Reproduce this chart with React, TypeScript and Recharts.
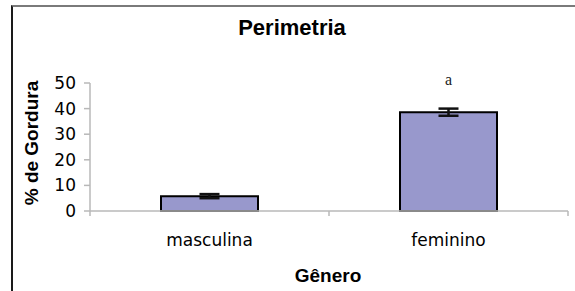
import { Bar, BarChart, ErrorBar, LabelList, XAxis, YAxis } from "recharts";

const generos = ["masculina", "feminino"];
const gordura = [5.8, 38.6];
const erros = [0.8, 1.4];
const letras = ["", "a"];
const yTicks = [0, 10, 20, 30, 40, 50];

const data = generos.map((g, i) => ({
  genero: g,
  valor: gordura[i],
  erro: erros[i],
  letra: letras[i],
}));

const AXIS_GRAY = "#b8b8b8";
const tickFont = { fontFamily: "DejaVu Sans, sans-serif", fontSize: 17, fill: "#000" };
const boldFont = "Liberation Sans, Arial, sans-serif";

// rótulo da categoria + marcas nos limites da faixa (como no Excel)
const CategoriaTick = (props: any) => {
  const { x, y, payload, index } = props;
  const half = payload && typeof payload.offset === "number" ? payload.offset : 0;
  return (
    <g>
      {half > 0 && (
        <line x1={x - half} x2={x - half} y1={y} y2={y + 5} stroke={AXIS_GRAY} strokeWidth={1.5} />
      )}
      {half > 0 && index === generos.length - 1 && (
        <line x1={x + half} x2={x + half} y1={y} y2={y + 5} stroke={AXIS_GRAY} strokeWidth={1.5} />
      )}
      <text x={x} y={y + 35} textAnchor="middle" {...tickFont}>
        {payload.value}
      </text>
    </g>
  );
};

const App = () => {
  return (
    <div style={{ position: "absolute", left: 0, top: 0, width: 575, height: 291, background: "#fff" }}>
      {/* moldura */}
      <div
        style={{
          position: "absolute",
          left: 11,
          top: 5,
          width: 564,
          height: 284,
          borderLeft: "2px solid #1a1a1a",
          borderTop: "2px solid #7a7a7a",
          borderBottom: "2px solid #cfcfcf",
        }}
      />
      <BarChart
        width={575}
        height={291}
        data={data}
        margin={{ top: 83, right: 7, left: 50, bottom: 40 }}
        style={{ position: "absolute", left: 0, top: 0 }}
      >
        <XAxis
          dataKey="genero"
          height={40}
          interval={0}
          tickLine={false}
          tickSize={0}
          tickMargin={0}
          axisLine={{ stroke: AXIS_GRAY, strokeWidth: 1.5 }}
          tick={<CategoriaTick />}
        />
        <YAxis
          width={40}
          domain={[0, 50]}
          ticks={yTicks}
          interval={0}
          tickSize={6}
          tickMargin={8}
          axisLine={{ stroke: AXIS_GRAY, strokeWidth: 1.5 }}
          tickLine={{ stroke: AXIS_GRAY, strokeWidth: 1.5 }}
          tick={tickFont}
        />
        <Bar
          dataKey="valor"
          barSize={97}
          fill="#9898cc"
          stroke="#000"
          strokeWidth={2}
          isAnimationActive={false}
        >
          <ErrorBar dataKey="erro" width={10} stroke="#111" strokeWidth={2.5} />
          <LabelList
            dataKey="letra"
            position="top"
            offset={27}
            style={{ fontFamily: "Liberation Serif, serif", fontSize: 16, fill: "#222" }}
          />
        </Bar>
      </BarChart>
      <svg
        width={575}
        height={291}
        style={{ position: "absolute", left: 0, top: 0, pointerEvents: "none" }}
      >
        <text x={292} y={35} textAnchor="middle" fontFamily={boldFont} fontWeight="bold" fontSize={22}>
          Perimetria
        </text>
        <text
          x={38}
          y={143}
          textAnchor="middle"
          transform="rotate(-90, 38, 143)"
          fontFamily={boldFont}
          fontWeight="bold"
          fontSize={19}
        >
          % de Gordura
        </text>
        <text x={328} y={282} textAnchor="middle" fontFamily={boldFont} fontWeight="bold" fontSize={19}>
          Gênero
        </text>
      </svg>
    </div>
  );
};

export default App;
